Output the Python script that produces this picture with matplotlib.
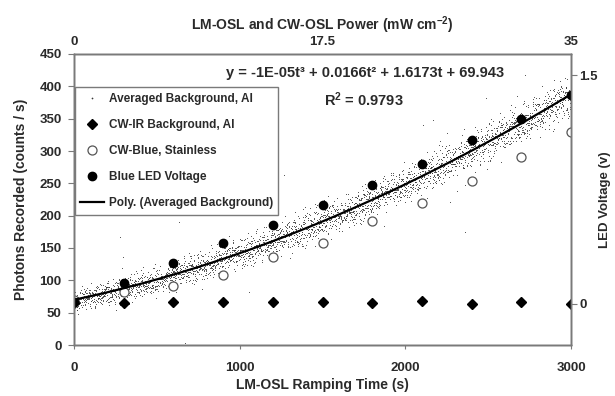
import numpy as np
import matplotlib
matplotlib.use("Agg")
import matplotlib.pyplot as plt

plt.rcParams['font.family'] = ['Liberation Sans', 'DejaVu Sans']
plt.rcParams['font.weight'] = 'bold'
plt.rcParams['axes.labelweight'] = 'bold'
plt.rcParams['mathtext.fontset'] = 'custom'
plt.rcParams['mathtext.rm'] = 'Liberation Sans:bold'
plt.rcParams['mathtext.default'] = 'rm'

txt = '#2a2a2a'
spine = '#7a7a7a'

# data
step_time = [0, 300, 600, 900, 1200, 1500, 1800, 2100, 2400, 2700, 3000]
cw_ir_bg = [65, 64.5, 66, 66, 66, 66, 64.5, 68, 63, 66, 63]
cw_blue = [70, 82, 91, 109, 136, 158, 191, 220, 254, 290, 329]
led_volt = [0.015, 0.136, 0.27, 0.40, 0.517, 0.648, 0.78, 0.92, 1.074, 1.216, 1.369]

# trendline printed on the chart (t in 30 s channels)
poly_coef = [-1e-05, 0.0166, 1.6173, 69.943]
eq_text = "y = -1E-05t³ + 0.0166t² + 1.6173t + 69.943"
r2_text = "R$^2$ = 0.9793"

# averaged background cloud: 3000 one-second channels, too dense to read point
# by point, so scatter round the trendline with the spread seen in the picture
bg_time = np.arange(1, 3001)
spread_start, spread_end = 9.0, 15.0
rng = np.random.default_rng(7)
bg_trend = np.polyval(poly_coef, bg_time / 30.0)
bg_spread = spread_start + (spread_end - spread_start) * bg_time / 3000.0
bg_counts = bg_trend + rng.normal(0, 1, bg_time.size) * bg_spread
outl = rng.choice(bg_time.size, 60, replace=False)
bg_counts[outl] += rng.normal(0, 40, outl.size)

fig = plt.figure(figsize=(6.15, 3.96), dpi=100)
ax = fig.add_axes([74/615, 1-345/396, 497/615, 291/396])

ax.plot(bg_time, bg_counts, '.', color='#3a3a3a', markersize=1.5, mew=0,
        label='Averaged Background, Al', zorder=2)
tt = np.linspace(0, 3000, 200)
ax.plot(tt, np.polyval(poly_coef, tt / 30.0), '-', color='black', lw=1.6,
        label='Poly. (Averaged Background)', zorder=4)
ax.plot(step_time, cw_ir_bg, 'D', color='black', markersize=5.2,
        label='CW-IR Background, Al', zorder=5)
ax.plot(step_time, cw_blue, 'o', mfc='white', mec='#555555', mew=0.9,
        markersize=6.5, label='CW-Blue, Stainless', zorder=3)

ax.set_xlim(0, 3000)
ax.set_ylim(0, 450)
ax.set_xticks([0, 1000, 2000, 3000])
ax.set_yticks(range(0, 451, 50))
ax.set_xlabel('LM-OSL Ramping Time (s)', fontsize=10, color=txt, labelpad=3)
ax.set_ylabel('Photons Recorded (counts / s)', fontsize=10, color=txt, labelpad=8)
ax.tick_params(axis='x', direction='out', length=3, pad=9, labelsize=9.5,
               colors=spine, labelcolor=txt)
ax.tick_params(axis='y', direction='out', length=4, pad=5, labelsize=9.5,
               colors=spine, labelcolor=txt)

ax2 = ax.twinx()
ax2.plot(step_time, led_volt, 'o', color='black', markersize=6,
         label='Blue LED Voltage', zorder=5)
ax2.set_ylim(-0.27, 1.64)
ax2.set_yticks([0, 1.5])
ax2.set_yticklabels(['0', '1.5'])
ax2.set_ylabel('LED Voltage (v)', fontsize=9.5, color=txt, labelpad=1)
ax2.tick_params(axis='y', direction='out', length=4, pad=2, labelsize=9.5,
                colors=spine, labelcolor=txt)

ax3 = ax.twiny()
ax3.set_xlim(0, 35)
ax3.set_xticks([0, 17.5, 35])
ax3.set_xticklabels(['0', '17.5', '35'])
ax3.set_xlabel('LM-OSL and CW-OSL Power (mW cm$^{-2}$)', fontsize=10,
               color=txt, labelpad=5)
ax3.tick_params(axis='x', length=0, pad=4, labelsize=9.5, labelcolor=txt)

for a in (ax, ax2, ax3):
    for s in a.spines.values():
        s.set_color(spine)
        s.set_linewidth(1.0)

ax.text(1757, 420, eq_text, fontsize=10.5, color=txt, ha='center', va='center', zorder=6)
ax.text(1750, 379, r2_text, fontsize=10.5, color=txt, ha='center', va='center', zorder=6)

h1, l1 = ax.get_legend_handles_labels()
h2, l2 = ax2.get_legend_handles_labels()
hmap = dict(zip(l1 + l2, h1 + h2))
order = ['Averaged Background, Al', 'CW-IR Background, Al', 'CW-Blue, Stainless',
         'Blue LED Voltage', 'Poly. (Averaged Background)']
leg = ax3.legend([hmap[k] for k in order], order, loc='upper left',
                 bbox_to_anchor=(0.002, 0.885), borderaxespad=0, fontsize=8.5,
                 frameon=True, fancybox=False, edgecolor=spine, framealpha=1,
                 handlelength=2.0, handletextpad=0.4, labelspacing=1.2,
                 borderpad=0.45, markerscale=1.0)
leg.get_frame().set_linewidth(1.0)
for t in leg.get_texts():
    t.set_color(txt)
leg.legend_handles[0].set_markersize(2.5)

fig.savefig('out.png', dpi=100)
